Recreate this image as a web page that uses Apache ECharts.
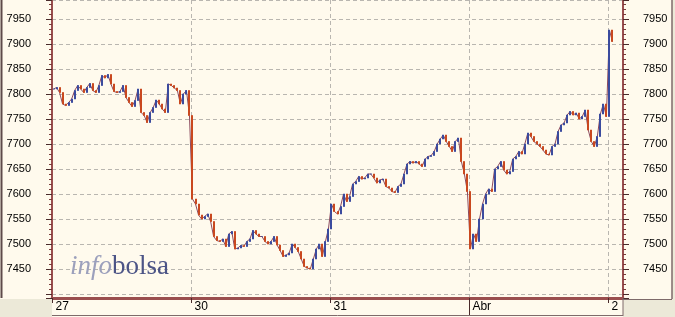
<!DOCTYPE html>
<html><head><meta charset="utf-8">
<script src="https://cdn.jsdelivr.net/npm/echarts@6/dist/echarts.min.js"></script>
<style>html,body{margin:0;padding:0;background:#ECE9D8;overflow:hidden}#c{width:675px;height:317px}</style>
</head><body><div id="c"></div>
<script>
// Session labels (one label per trading day)
const dayLabels = ['27', '30', '31', 'Abr', '2'];
// Closing prices per bar
const day27 = [7810,7813,7803,7780,7777,7783,7790,7807,7817,7810,7803,7813,7821,7807,7803,7817,7837,7832,7839,7820,7805,7803,7805,7817,7793,7783,7775,7787,7810,7763,7757,7743,7763,7773,7788,7780,7770,7763,7820,7817,7812,7807,7780,7800,7807,7757];
const day30 = [7590,7580,7558,7550,7555,7560,7545,7515,7507,7505,7510,7495,7520,7525,7490,7492,7497,7495,7505,7510,7527,7520,7515,7515,7505,7500,7505,7515,7498,7487,7475,7478,7482,7500,7493,7485,7470,7455,7452,7450,7470,7490,7500,7475,7505,7530];
const day31 = [7580,7565,7560,7575,7600,7585,7595,7620,7625,7635,7630,7632,7640,7640,7632,7622,7628,7630,7615,7612,7605,7603,7615,7620,7640,7660,7665,7662,7665,7660,7655,7670,7675,7677,7685,7700,7710,7718,7705,7695,7685,7705,7712,7665,7640,7605];
const dayApr1 = [7490,7520,7505,7550,7580,7600,7610,7605,7650,7655,7665,7648,7640,7645,7670,7675,7685,7680,7700,7722,7715,7705,7700,7695,7688,7680,7678,7695,7700,7725,7738,7742,7758,7765,7758,7762,7750,7755,7768,7728,7705,7695,7715,7760,7780,7755];
const dayApr2 = [7928,7905];
const days = [day27, day30, day31, dayApr1, dayApr2];
// Y tick labels shown
const yTickLabels = [7450,7500,7550,7600,7650,7700,7750,7800,7850,7900,7950];
const monthStartLabel = 'Abr';
const emptySlots = 3;

const categories = [];
const dayStart = {};
const closes = [];
days.forEach((d, di) => {
  dayStart[categories.length] = dayLabels[di];
  d.forEach((v, k) => { categories.push(dayLabels[di] + '_' + k); closes.push(v); });
});
for (let i = 0; i < emptySlots; i++) categories.push('pad' + i);
const ohlc = closes.map((c, i) => {
  const o = i === 0 ? c : closes[i - 1];
  return [o, c, Math.min(o, c), Math.max(o, c)];
});

const isStart = (idx) => dayStart[idx] !== undefined;
const cream = '#FFFAED';
const axisCol = '#9A4E4E';
const tickCol = '#4A2A2A';
const gridCol = '#B9B6B0';
const font = "'Liberation Sans', Arial, sans-serif";

const yCommon = {
  type: 'value', min: 7392, max: 7988, splitNumber: 12, minInterval: 50, maxInterval: 50,
  axisLine: {show: true, lineStyle: {color: axisCol, width: 2}},
  axisTick: {show: true, length: 6, lineStyle: {color: tickCol}},
  minorTick: {show: true, splitNumber: 5, length: 3, lineStyle: {color: '#7A3A3A'}},
  axisLabel: {color: '#000', fontFamily: font, fontSize: 11,
    formatter: (v) => yTickLabels.indexOf(v) >= 0 ? String(v) : ''},
};

const baseGraphics = [
  {type: 'rect', shape: {x: 0, y: 299, width: 52, height: 18}, style: {fill: '#ECE9D8'}, z: 1},
  {type: 'rect', shape: {x: 623, y: 299, width: 52, height: 18}, style: {fill: '#ECE9D8'}, z: 1},
  {type: 'rect', shape: {x: 672, y: 0, width: 3, height: 317}, style: {fill: '#ECE9D8'}, z: 1},
  {type: 'line', shape: {x1: 1.5, y1: 0, x2: 1.5, y2: 298}, style: {stroke: '#5E4A4A', lineWidth: 2}, z: 2},
  {type: 'line', shape: {x1: 672, y1: 0, x2: 672, y2: 299}, style: {stroke: '#7E6A6A', lineWidth: 1.5}, z: 2},
  {type: 'line', shape: {x1: 623, y1: 299.5, x2: 672, y2: 299.5}, style: {stroke: '#7E6A6A', lineWidth: 1}, z: 2},
  {type: 'line', shape: {x1: 52, y1: 315.5, x2: 623, y2: 315.5}, style: {stroke: '#7E6A6A', lineWidth: 1}, z: 2},
  {type: 'line', shape: {x1: 623, y1: 298, x2: 623, y2: 316}, style: {stroke: '#7E6A6A', lineWidth: 1}, z: 2},
  {type: 'text', x: 70, y: 253, z: 1,
    style: {text: '{a|info}{b|bolsa}', rich: {
      a: {fontFamily: "'Liberation Serif', serif", fontStyle: 'italic', fontSize: 27, fill: '#9CA0BC'},
      b: {fontFamily: "'Liberation Serif', serif", fontSize: 27, fill: '#4C5486'}
    }}}
];

const chart = echarts.init(document.getElementById('c'), null, {renderer: 'canvas'});
chart.setOption({
  animation: false,
  backgroundColor: cream,
  graphic: baseGraphics,
  grid: {left: 52, right: 52, top: 0, height: 298},
  xAxis: {
    type: 'category', data: categories, boundaryGap: true,
    axisLine: {show: true, lineStyle: {color: axisCol, width: 3}},
    axisTick: {show: true, interval: isStart, length: 5, lineStyle: {color: tickCol}},
    axisLabel: {show: true, interval: isStart, align: 'left', margin: 3, padding: [0, 0, 0, 2],
      color: '#000', fontFamily: font, fontSize: 12,
      formatter: (v, idx) => dayStart[idx] !== undefined ? dayStart[idx] : ''},
    splitLine: {show: true, interval: isStart, lineStyle: {color: gridCol, type: [4, 3], width: 1}},
  },
  yAxis: [
    Object.assign({}, yCommon, {position: 'left',
      axisLabel: Object.assign({}, yCommon.axisLabel, {margin: 21}),
      splitLine: {show: true, lineStyle: {color: gridCol, type: [4, 3], width: 1}}}),
    Object.assign({}, yCommon, {position: 'right',
      axisLabel: Object.assign({}, yCommon.axisLabel, {margin: 20}),
      splitLine: {show: false}})
  ],
  series: [{
    type: 'line', data: closes, symbol: 'none', z: 2,
    lineStyle: {color: '#8C4A5E', width: 1}
  }, {
    type: 'candlestick', data: ohlc, barWidth: 1.5, z: 3,
    itemStyle: {color: '#3B4B9E', color0: '#C9481F', borderColor: '#3B4B9E', borderColor0: '#C9481F', borderWidth: 1}
  }]
});

// Longer tick at the month boundary (Abr), placed through the axis scale
const mIdx = Object.keys(dayStart).find(k => dayStart[k] === monthStartLabel);
const c0 = chart.convertToPixel({xAxisIndex: 0}, categories[0]);
const c1 = chart.convertToPixel({xAxisIndex: 0}, categories[1]);
const mx = Math.round(chart.convertToPixel({xAxisIndex: 0}, categories[mIdx]) - (c1 - c0) / 2) + 0.5;
chart.setOption({graphic: baseGraphics.concat([
  {type: 'line', shape: {x1: mx, y1: 298, x2: mx, y2: 315}, style: {stroke: tickCol, lineWidth: 1}, z: 3}
])});
</script></body></html>
